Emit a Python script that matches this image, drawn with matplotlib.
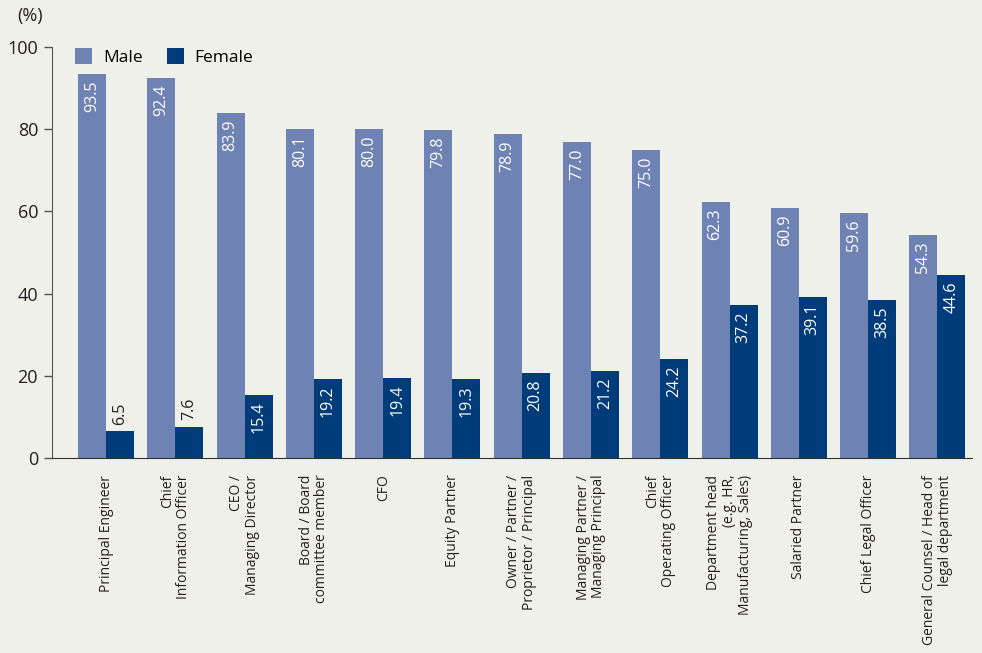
import numpy as np
import matplotlib.pyplot as plt

roles = ["Principal Engineer", "Chief\nInformation Officer", "CEO /\nManaging Director",
         "Board / Board\ncommittee member", "CFO", "Equity Partner",
         "Owner / Partner /\nProprietor / Principal", "Managing Partner /\nManaging Principal",
         "Chief\nOperating Officer", "Department head\n(e.g. HR,\nManufacturing, Sales)",
         "Salaried Partner", "Chief Legal Officer",
         "General Counsel / Head of\nlegal department"]
male = [93.5, 92.4, 83.9, 80.1, 80.0, 79.8, 78.9, 77.0, 75.0, 62.3, 60.9, 59.6, 54.3]
female = [6.5, 7.6, 15.4, 19.2, 19.4, 19.3, 20.8, 21.2, 24.2, 37.2, 39.1, 38.5, 44.6]

bg = "#f0f0ea"
c_male = "#6f82b4"
c_female = "#003b7a"
txt = "#231f20"

plt.rcParams['font.family'] = ['Open Sans', 'DejaVu Sans']

fig = plt.figure(figsize=(9.82, 6.53), dpi=100, facecolor=bg)
ax = fig.add_axes([52/982, 195/653, 920/982, 411/653], facecolor=bg)

x = np.arange(len(roles))
w = 0.404
bm = ax.bar(x - w/2, male, w, color=c_male, label="Male")
bf = ax.bar(x + w/2, female, w, color=c_female, label="Female")

# value labels: inside the bar near its top, above it if the bar is too short
for bars, vals in ((bm, male), (bf, female)):
    for b, v in zip(bars, vals):
        cx = b.get_x() + b.get_width()/2
        if v > 12:
            ax.text(cx, v - 1.6, f"{v:.1f}", rotation=90, ha="center", va="top",
                    color="white", fontsize=11.5)
        else:
            ax.text(cx, v + 1.6, f"{v:.1f}", rotation=90, ha="center", va="bottom",
                    color=txt, fontsize=11.5)

ax.set_xlim(-0.78, 12.5)
ax.set_ylim(0, 100)
ax.set_yticks([0, 20, 40, 60, 80, 100])
ax.set_xticks(x)
ax.set_xticklabels(roles, rotation=90, ha="center", va="top", multialignment="right",
                   fontsize=10, color=txt, linespacing=1.05)
ax.tick_params(axis="x", length=0, pad=12)
ax.tick_params(axis="y", length=6, width=1, colors="#555555", labelcolor=txt,
               labelsize=13, pad=4)
for s in ("top", "right"):
    ax.spines[s].set_visible(False)
ax.spines["left"].set_color("#555555")
ax.spines["bottom"].set_color("#333333")
ax.spines["left"].set_bounds(0, 100)

fig.text(17/982, 1 - 16/653, "(%)", fontsize=13, color=txt, va="center")

ax.legend(loc="upper left", bbox_to_anchor=(0.008, 1.035), ncol=2, frameon=False,
          fontsize=12.5, handlelength=1.0, handleheight=1.0, handletextpad=0.6,
          columnspacing=1.4)

fig.savefig("out.png", dpi=100, facecolor=bg)
